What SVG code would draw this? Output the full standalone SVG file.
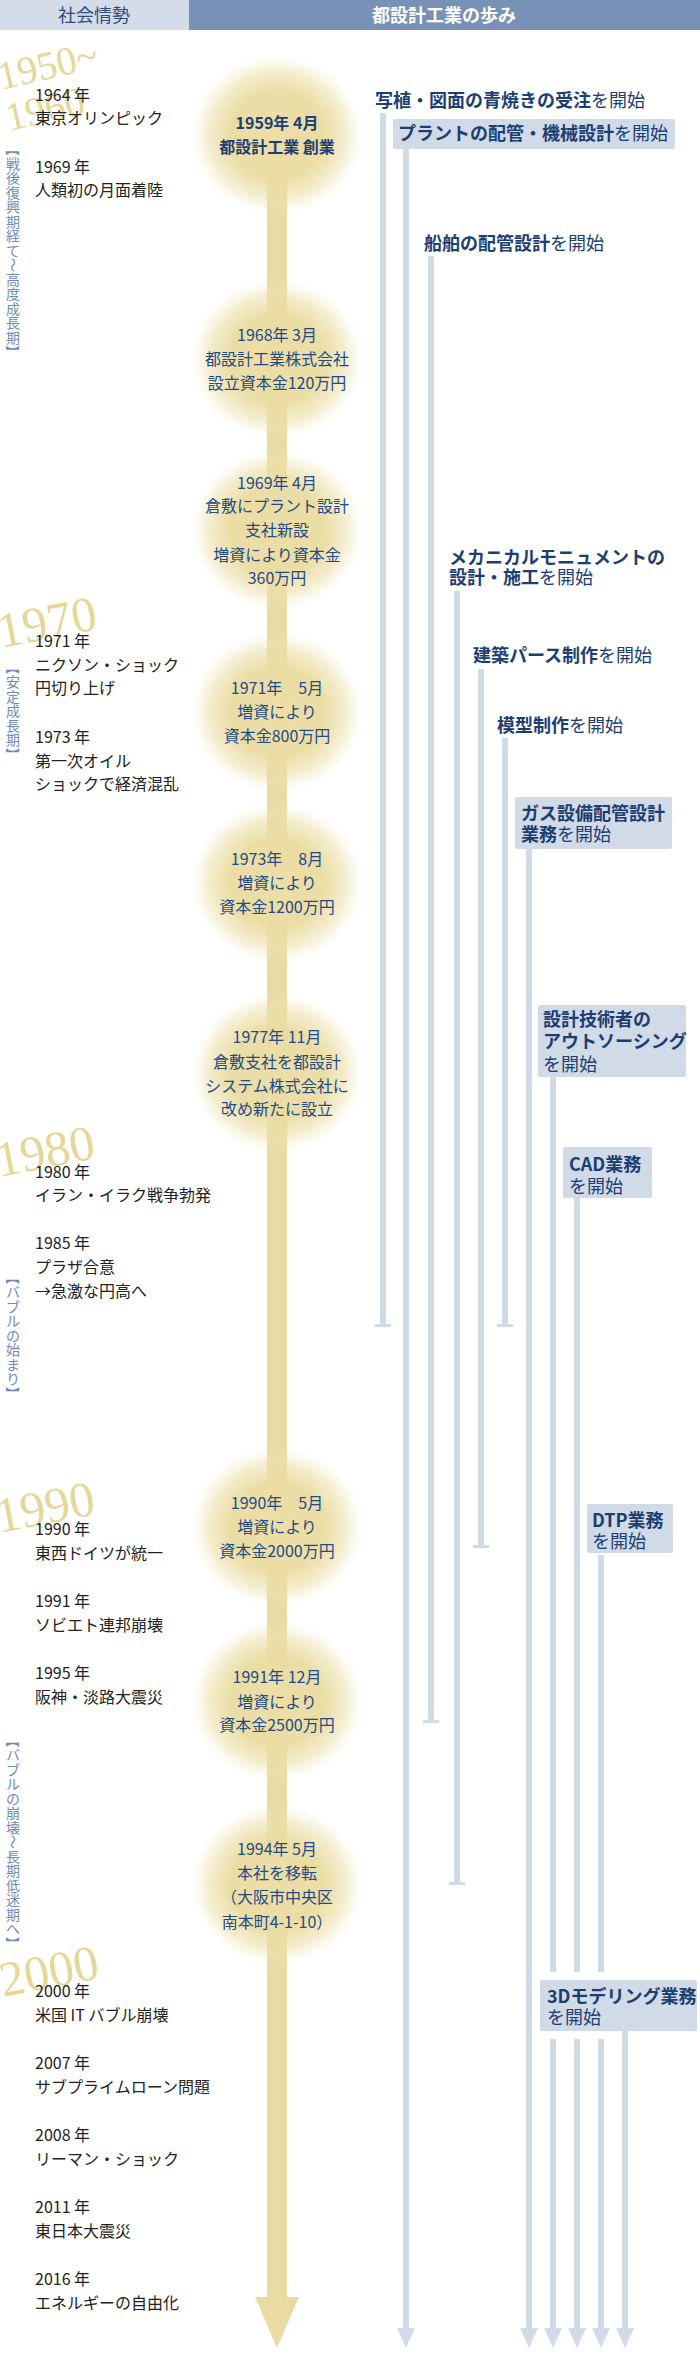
<svg xmlns="http://www.w3.org/2000/svg" width="700" height="2360" viewBox="0 0 700 2360">
<style>
.jp{font-family:"Noto Sans CJK JP","Noto Sans",sans-serif}
.lt{font-family:"Noto Sans CJK JP",sans-serif;font-size:16px;fill:#222}
.ct{font-family:"Noto Sans CJK JP",sans-serif;font-size:16px;fill:#244b86;text-anchor:middle}
.cb{font-weight:bold;fill:#1e3e74}
.rl{font-family:"Noto Sans CJK JP",sans-serif;font-size:18px;fill:#1d3e73}
.b{font-weight:bold}
.vt{font-family:"Noto Sans CJK JP",sans-serif;font-size:14px;fill:#6f8bba}
.dec{font-family:"Liberation Serif",serif;fill:#e6d698}
.bx{fill:#d1dbe7}
.ln{fill:#d1dbe7}
</style>
<defs>
<radialGradient id="glow" cx="0.5" cy="0.5" r="0.5">
<stop offset="0" stop-color="#ecdea6" stop-opacity="1"/>
<stop offset="0.55" stop-color="#eadca2" stop-opacity="0.97"/>
<stop offset="0.8" stop-color="#ecdfa8" stop-opacity="0.55"/>
<stop offset="1" stop-color="#f3eac6" stop-opacity="0"/>
</radialGradient>
</defs>
<rect width="700" height="2360" fill="#fff"/>
<g id="header">
<rect x="0" y="0" width="189" height="30" fill="#d3dce8"/>
<rect x="189" y="0" width="511" height="30" fill="#7891b7"/>
<text x="94" y="21.5" class="jp" font-size="18" fill="#2f4d7e" text-anchor="middle">社会情勢</text>
<text x="444" y="21.5" class="jp" font-size="18" font-weight="bold" fill="#fff" text-anchor="middle">都設計工業の歩み</text>
</g>
<g id="decades">
<text class="dec" font-size="40" x="1" y="90" transform="rotate(-13 1 90)">1950~</text>
<text class="dec" font-size="40" x="9" y="131" transform="rotate(-13 9 131)">1960</text>
<text class="dec" font-size="50" x="1" y="648" transform="rotate(-11 1 648)">1970</text>
<text class="dec" font-size="50" x="-1" y="1177" transform="rotate(-11 -1 1177)">1980</text>
<text class="dec" font-size="50" x="-1" y="1533" transform="rotate(-11 -1 1533)">1990</text>
<text class="dec" font-size="50" x="3" y="1997" transform="rotate(-11 3 1997)">2000</text>
</g>
<g id="periods">
<text class="vt"><tspan x="7.7" y="142" rotate="90">【</tspan><tspan x="6" y="168.8">戦</tspan><tspan x="6" y="183.3">後</tspan><tspan x="6" y="197.8">復</tspan><tspan x="6" y="212.3">興</tspan><tspan x="6" y="226.8">期</tspan><tspan x="6" y="241.3">経</tspan><tspan x="6" y="255.8">て</tspan><tspan x="7.7" y="258" rotate="90">～</tspan><tspan x="6" y="284.8">高</tspan><tspan x="6" y="299.3">度</tspan><tspan x="6" y="313.8">成</tspan><tspan x="6" y="328.3">長</tspan><tspan x="6" y="342.8">期</tspan><tspan x="7.7" y="345" rotate="90">】</tspan></text>
<text class="vt"><tspan x="7.7" y="660.5" rotate="90">【</tspan><tspan x="6" y="687.3">安</tspan><tspan x="6" y="701.8">定</tspan><tspan x="6" y="716.3">成</tspan><tspan x="6" y="730.8">長</tspan><tspan x="6" y="745.3">期</tspan><tspan x="7.7" y="747.5" rotate="90">】</tspan></text>
<text class="vt"><tspan x="7.7" y="1270.5" rotate="90">【</tspan><tspan x="6" y="1297.3">バ</tspan><tspan x="6" y="1311.8">ブ</tspan><tspan x="6" y="1326.3">ル</tspan><tspan x="6" y="1340.8">の</tspan><tspan x="6" y="1355.3">始</tspan><tspan x="6" y="1369.8">ま</tspan><tspan x="6" y="1384.3">り</tspan><tspan x="7.7" y="1386.5" rotate="90">】</tspan></text>
<text class="vt"><tspan x="7.7" y="1733.5" rotate="90">【</tspan><tspan x="6" y="1760.3">バ</tspan><tspan x="6" y="1774.8">ブ</tspan><tspan x="6" y="1789.3">ル</tspan><tspan x="6" y="1803.8">の</tspan><tspan x="6" y="1818.3">崩</tspan><tspan x="6" y="1832.8">壊</tspan><tspan x="7.7" y="1835" rotate="90">～</tspan><tspan x="6" y="1861.8">長</tspan><tspan x="6" y="1876.3">期</tspan><tspan x="6" y="1890.8">低</tspan><tspan x="6" y="1905.3">迷</tspan><tspan x="6" y="1919.8">期</tspan><tspan x="6" y="1934.3">へ</tspan><tspan x="7.7" y="1936.5" rotate="90">】</tspan></text>
</g>
<g id="world-events">
<text class="lt" x="35" y="101">1964 年</text>
<text class="lt" x="35" y="124">東京オリンピック</text>
<text class="lt" x="35" y="173">1969 年</text>
<text class="lt" x="35" y="196">人類初の月面着陸</text>
<text class="lt" x="35" y="647">1971 年</text>
<text class="lt" x="35" y="671">ニクソン・ショック</text>
<text class="lt" x="35" y="694">円切り上げ</text>
<text class="lt" x="35" y="743">1973 年</text>
<text class="lt" x="35" y="767">第一次オイル</text>
<text class="lt" x="35" y="790">ショックで経済混乱</text>
<text class="lt" x="35" y="1178">1980 年</text>
<text class="lt" x="35" y="1201">イラン・イラク戦争勃発</text>
<text class="lt" x="35" y="1249">1985 年</text>
<text class="lt" x="35" y="1273">プラザ合意</text>
<text class="lt" x="35" y="1297">→急激な円高へ</text>
<text class="lt" x="35" y="1535">1990 年</text>
<text class="lt" x="35" y="1559">東西ドイツが統一</text>
<text class="lt" x="35" y="1607">1991 年</text>
<text class="lt" x="35" y="1631">ソビエト連邦崩壊</text>
<text class="lt" x="35" y="1679">1995 年</text>
<text class="lt" x="35" y="1703">阪神・淡路大震災</text>
<text class="lt" x="35" y="1997">2000 年</text>
<text class="lt" x="35" y="2021">米国 IT バブル崩壊</text>
<text class="lt" x="35" y="2069">2007 年</text>
<text class="lt" x="35" y="2093">サブプライムローン問題</text>
<text class="lt" x="35" y="2141">2008 年</text>
<text class="lt" x="35" y="2165">リーマン・ショック</text>
<text class="lt" x="35" y="2213">2011 年</text>
<text class="lt" x="35" y="2237">東日本大震災</text>
<text class="lt" x="35" y="2285">2016 年</text>
<text class="lt" x="35" y="2309">エネルギーの自由化</text>
</g>
<g id="timeline">
<rect x="267" y="135" width="20" height="2163" fill="#e9dba2"/>
<polygon points="255,2297 299,2297 277,2348" fill="#e9dba2"/>
</g>
<g id="c1959"><ellipse cx="277" cy="135" rx="86" ry="80" fill="url(#glow)"/>
<text class="ct cb" x="277" y="129">1959年 4月</text><text class="ct cb" x="277" y="153">都設計工業 創業</text></g>
<g id="c1968"><ellipse cx="277" cy="359" rx="86" ry="80" fill="url(#glow)"/>
<text class="ct" x="277" y="341">1968年 3月</text><text class="ct" x="277" y="365">都設計工業株式会社</text><text class="ct" x="277" y="389">設立資本金120万円</text></g>
<g id="c1969"><ellipse cx="277" cy="530" rx="86" ry="80" fill="url(#glow)"/>
<text class="ct" x="277" y="489">1969年 4月</text><text class="ct" x="277" y="512">倉敷にプラント設計</text><text class="ct" x="277" y="536">支社新設</text><text class="ct" x="277" y="561">増資により資本金</text><text class="ct" x="277" y="584">360万円</text></g>
<g id="c1971"><ellipse cx="277" cy="712" rx="86" ry="80" fill="url(#glow)"/>
<text class="ct" x="277" y="694">1971年　5月</text><text class="ct" x="277" y="718">増資により</text><text class="ct" x="277" y="742">資本金800万円</text></g>
<g id="c1973"><ellipse cx="277" cy="883" rx="86" ry="80" fill="url(#glow)"/>
<text class="ct" x="277" y="865">1973年　8月</text><text class="ct" x="277" y="889">増資により</text><text class="ct" x="277" y="913">資本金1200万円</text></g>
<g id="c1977"><ellipse cx="277" cy="1073" rx="86" ry="80" fill="url(#glow)"/>
<text class="ct" x="277" y="1043">1977年 11月</text><text class="ct" x="277" y="1068">倉敷支社を都設計</text><text class="ct" x="277" y="1092">システム株式会社に</text><text class="ct" x="277" y="1115">改め新たに設立</text></g>
<g id="c1990"><ellipse cx="277" cy="1527" rx="86" ry="80" fill="url(#glow)"/>
<text class="ct" x="277" y="1509">1990年　5月</text><text class="ct" x="277" y="1533">増資により</text><text class="ct" x="277" y="1557">資本金2000万円</text></g>
<g id="c1991"><ellipse cx="277" cy="1701" rx="86" ry="80" fill="url(#glow)"/>
<text class="ct" x="277" y="1683">1991年 12月</text><text class="ct" x="277" y="1708">増資により</text><text class="ct" x="277" y="1731">資本金2500万円</text></g>
<g id="c1994"><ellipse cx="277" cy="1885" rx="86" ry="80" fill="url(#glow)"/>
<text class="ct" x="277" y="1855">1994年 5月</text><text class="ct" x="277" y="1879">本社を移転</text><text class="ct" x="277" y="1903">（大阪市中央区</text><text class="ct" x="277" y="1928">南本町4-1-10）</text></g>
<g id="connectors">
<rect class="ln" x="380" y="113" width="6" height="1213"/><rect class="ln" x="375" y="1324" width="16" height="3"/>
<rect class="ln" x="403" y="149" width="6" height="2180"/><polygon class="ln" points="397,2328 415,2328 406,2348"/>
<rect class="ln" x="428" y="256" width="6" height="1466"/><rect class="ln" x="423" y="1720" width="16" height="3"/>
<rect class="ln" x="454" y="591" width="6" height="1293"/><rect class="ln" x="449" y="1882" width="16" height="3"/>
<rect class="ln" x="478" y="669" width="6" height="878"/><rect class="ln" x="473" y="1545" width="16" height="3"/>
<rect class="ln" x="502" y="738" width="6" height="588"/><rect class="ln" x="497" y="1324" width="16" height="3"/>
<rect class="ln" x="526" y="849" width="6" height="1480"/><polygon class="ln" points="520,2328 538,2328 529,2348"/>
<rect class="ln" x="550" y="1077" width="6" height="895"/><rect class="ln" x="550" y="2039" width="6" height="290"/><polygon class="ln" points="544,2328 562,2328 553,2348"/>
<rect class="ln" x="574" y="1198" width="6" height="774"/><rect class="ln" x="574" y="2039" width="6" height="290"/><polygon class="ln" points="568,2328 586,2328 577,2348"/>
<rect class="ln" x="598" y="1555" width="6" height="417"/><rect class="ln" x="598" y="2039" width="6" height="290"/><polygon class="ln" points="592,2328 610,2328 601,2348"/>
<rect class="ln" x="622" y="2031" width="6" height="298"/><polygon class="ln" points="616,2328 634,2328 625,2348"/>
</g>
<g id="s1">
<text class="rl" x="375" y="106.5"><tspan class="b">写植・図面の青焼きの受注</tspan>を開始</text>
</g>
<g id="s2">
<rect class="bx" x="393" y="119" width="282" height="30" rx="2"/>
<text class="rl" x="398" y="140" font-size="19"><tspan class="b">プラントの配管・機械設計</tspan>を開始</text>
</g>
<g id="s3">
<text class="rl" x="424" y="249.5"><tspan class="b">船舶の配管設計</tspan>を開始</text>
</g>
<g id="s4">
<text class="rl" x="449" y="563.5"><tspan class="b">メカニカルモニュメントの</tspan></text>
<text class="rl" x="449" y="583.5"><tspan class="b">設計・施工</tspan>を開始</text>
</g>
<g id="s5">
<text class="rl" x="473" y="661.5"><tspan class="b">建築パース制作</tspan>を開始</text>
</g>
<g id="s6">
<text class="rl" x="497" y="731.5"><tspan class="b">模型制作</tspan>を開始</text>
</g>
<g id="s7">
<rect class="bx" x="515" y="797" width="157" height="52" rx="2"/>
<text class="rl" x="521" y="819.5"><tspan class="b">ガス設備配管設計</tspan></text>
<text class="rl" x="521" y="840.5"><tspan class="b">業務</tspan>を開始</text>
</g>
<g id="s8">
<rect class="bx" x="538" y="1005" width="148" height="72" rx="2"/>
<text class="rl" x="543" y="1025.5"><tspan class="b">設計技術者の</tspan></text>
<text class="rl" x="543" y="1047.5"><tspan class="b">アウトソーシング</tspan></text>
<text class="rl" x="543" y="1070.5">を開始</text>
</g>
<g id="s9">
<rect class="bx" x="563" y="1147" width="89" height="51" rx="2"/>
<text class="rl" x="569" y="1170.5"><tspan class="b">CAD業務</tspan></text>
<text class="rl" x="569" y="1192.5">を開始</text>
</g>
<g id="s10">
<rect class="bx" x="587" y="1504" width="86" height="49" rx="2"/>
<text class="rl" x="592" y="1526.5"><tspan class="b">DTP業務</tspan></text>
<text class="rl" x="592" y="1547.5">を開始</text>
</g>
<g id="s11">
<rect class="bx" x="540" y="1980" width="157" height="51" rx="2"/>
<text class="rl" x="547" y="2002.5"><tspan class="b">3Dモデリング業務</tspan></text>
<text class="rl" x="547" y="2023.5">を開始</text>
</g>
</svg>
